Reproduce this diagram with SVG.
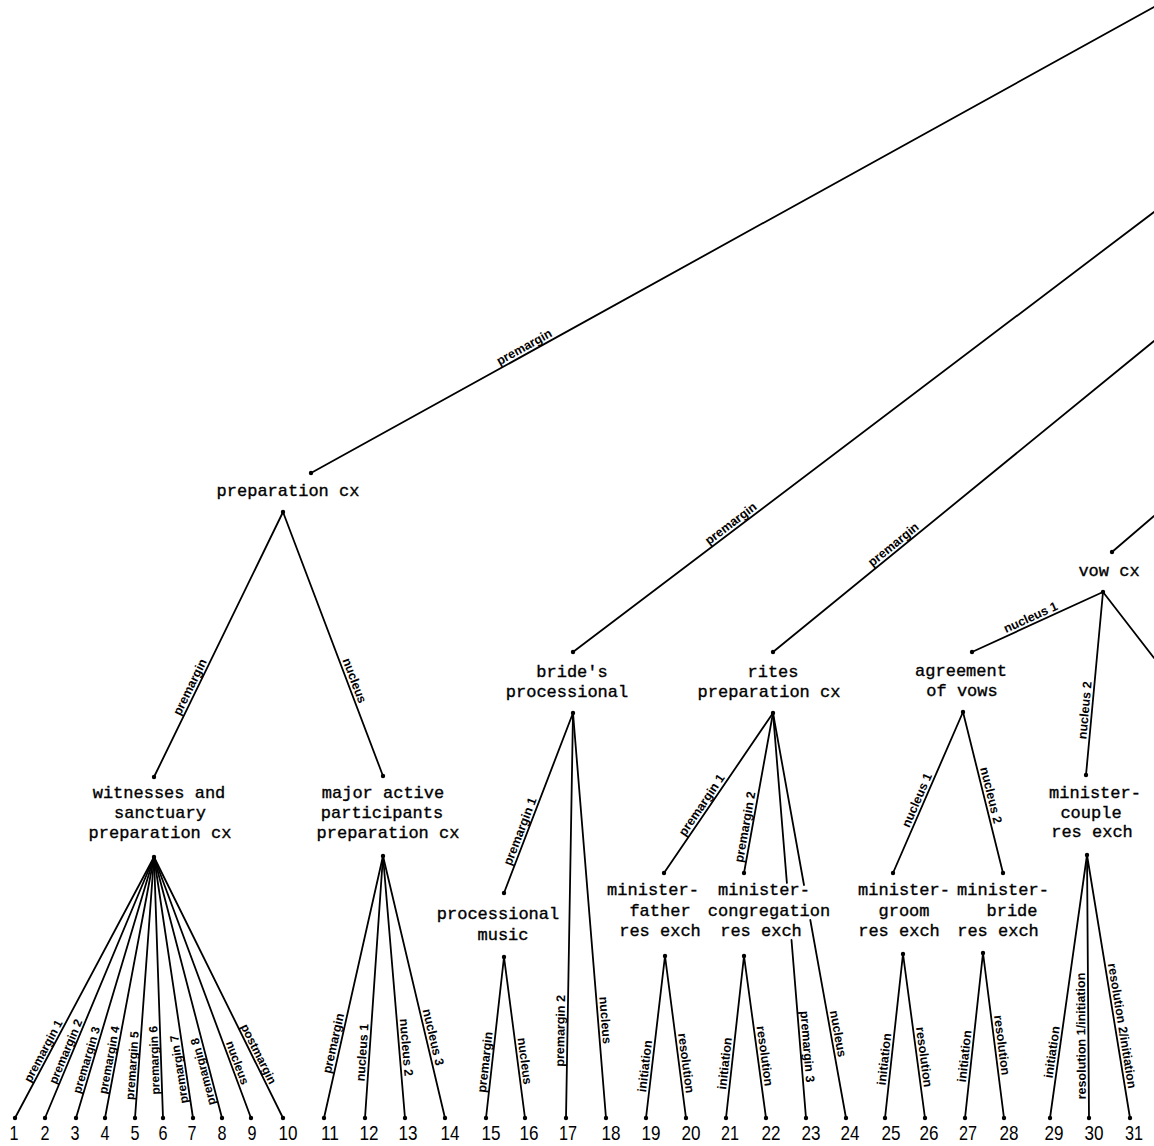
<svg xmlns="http://www.w3.org/2000/svg" width="1154" height="1146" viewBox="0 0 1154 1146">
<style>
.n{font-family:"Liberation Mono","Courier New",monospace;font-size:17px;fill:#000;stroke:#000;stroke-width:0.35;text-anchor:middle}
.e line{stroke:#000;stroke-width:1.8;fill:none;stroke-linecap:round}
.lb{font-family:"Liberation Sans",Arial,sans-serif;font-size:12.5px;font-weight:bold;fill:#000;text-anchor:middle}
.sm{font-size:12px}
.num{font-family:"Liberation Sans",Arial,sans-serif;font-size:21px;fill:#000;text-anchor:middle}
circle{fill:#000}
</style>
<defs>
<path id="pT1" d="M311,473 L1154,7"/>
<path id="pT2" d="M573,652 L1154,212"/>
<path id="pT3" d="M773,652 L1154,341"/>
<path id="pP1" d="M154,777 L283,512"/>
<path id="pP2" d="M283,512 L383,776"/>
<path id="pL1" d="M15,1118 L154,857"/>
<path id="pL2" d="M45,1118 L154,857"/>
<path id="pL3" d="M76,1118 L154,857"/>
<path id="pL4" d="M105,1118 L154,857"/>
<path id="pL5" d="M135,1118 L154,857"/>
<path id="pL6" d="M163,1118 L154,857"/>
<path id="pL7" d="M193,1118 L154,857"/>
<path id="pL8" d="M222,1118 L154,857"/>
<path id="pL9" d="M154,857 L251,1118"/>
<path id="pL10" d="M154,857 L283,1118"/>
<path id="pL11" d="M324,1118 L383,856"/>
<path id="pL12" d="M365,1118 L383,856"/>
<path id="pL13" d="M383,856 L405,1118"/>
<path id="pL14" d="M383,856 L445,1118"/>
<path id="pB1" d="M504,893 L573,713"/>
<path id="pL15" d="M486,1118 L504,957"/>
<path id="pL16" d="M504,957 L525,1118"/>
<path id="pL17" d="M566,1118 L573,713"/>
<path id="pL18" d="M573,713 L606,1118"/>
<path id="pR1" d="M664,873 L773,713"/>
<path id="pR2" d="M744,873 L773,713"/>
<path id="pL19" d="M646,1118 L665,956"/>
<path id="pL20" d="M665,956 L686,1118"/>
<path id="pL21" d="M726,1118 L744,956"/>
<path id="pL22" d="M744,956 L766,1118"/>
<path id="pL23" d="M773,713 L806,1118"/>
<path id="pL24" d="M773,713 L846,1118"/>
<path id="pV1" d="M972,652 L1103,592"/>
<path id="pV2" d="M1086,775 L1103,592"/>
<path id="pA1" d="M893,873 L963,712"/>
<path id="pA2" d="M963,712 L1003,873"/>
<path id="pL25" d="M885,1118 L903,954"/>
<path id="pL26" d="M903,954 L925,1118"/>
<path id="pL27" d="M965,1118 L983,953"/>
<path id="pL28" d="M983,953 L1004,1118"/>
<path id="pL29" d="M1050,1118 L1087,855"/>
<path id="pL30" d="M1089,1118 L1087,855"/>
<path id="pL31" d="M1087,855 L1130,1118"/>
</defs>

<g id="connectors" class="e">
<line x1="311" y1="473" x2="1154" y2="7"/>
<line x1="573" y1="652" x2="1154" y2="212"/>
<line x1="773" y1="652" x2="1154" y2="341"/>
<line x1="1112" y1="552" x2="1154" y2="516"/>
<line x1="1103" y1="592" x2="1154" y2="658"/>
<line x1="283" y1="512" x2="154" y2="777"/>
<line x1="283" y1="512" x2="383" y2="776"/>
<line x1="154" y1="857" x2="15" y2="1118"/>
<line x1="154" y1="857" x2="45" y2="1118"/>
<line x1="154" y1="857" x2="76" y2="1118"/>
<line x1="154" y1="857" x2="105" y2="1118"/>
<line x1="154" y1="857" x2="135" y2="1118"/>
<line x1="154" y1="857" x2="163" y2="1118"/>
<line x1="154" y1="857" x2="193" y2="1118"/>
<line x1="154" y1="857" x2="222" y2="1118"/>
<line x1="154" y1="857" x2="251" y2="1118"/>
<line x1="154" y1="857" x2="283" y2="1118"/>
<line x1="383" y1="856" x2="324" y2="1118"/>
<line x1="383" y1="856" x2="365" y2="1118"/>
<line x1="383" y1="856" x2="405" y2="1118"/>
<line x1="383" y1="856" x2="445" y2="1118"/>
<line x1="573" y1="713" x2="504" y2="893"/>
<line x1="573" y1="713" x2="566" y2="1118"/>
<line x1="573" y1="713" x2="606" y2="1118"/>
<line x1="504" y1="957" x2="486" y2="1118"/>
<line x1="504" y1="957" x2="525" y2="1118"/>
<line x1="773" y1="713" x2="664" y2="873"/>
<line x1="773" y1="713" x2="744" y2="873"/>
<line x1="773" y1="713" x2="786.9" y2="883"/>
<line x1="791.5" y1="940" x2="806" y2="1118"/>
<line x1="773" y1="713" x2="804" y2="885"/>
<line x1="810.3" y1="920" x2="846" y2="1118"/>
<line x1="665" y1="956" x2="646" y2="1118"/>
<line x1="665" y1="956" x2="686" y2="1118"/>
<line x1="744" y1="956" x2="726" y2="1118"/>
<line x1="744" y1="956" x2="766" y2="1118"/>
<line x1="1103" y1="592" x2="972" y2="652"/>
<line x1="1103" y1="592" x2="1086" y2="775"/>
<line x1="963" y1="712" x2="893" y2="873"/>
<line x1="963" y1="712" x2="1003" y2="873"/>
<line x1="903" y1="954" x2="885" y2="1118"/>
<line x1="903" y1="954" x2="925" y2="1118"/>
<line x1="983" y1="953" x2="965" y2="1118"/>
<line x1="983" y1="953" x2="1004" y2="1118"/>
<line x1="1087" y1="855" x2="1050" y2="1118"/>
<line x1="1087" y1="855" x2="1089" y2="1118"/>
<line x1="1087" y1="855" x2="1130" y2="1118"/>
</g>

<g id="edge-labels">
<text class="lb" dy="-3"><textPath href="#pT1" startOffset="25.7%">premargin</textPath></text>
<text class="lb" dy="-3"><textPath href="#pT2" startOffset="27.9%">premargin</textPath></text>
<text class="lb" dy="-3"><textPath href="#pT3" startOffset="32.8%">premargin</textPath></text>
<text class="lb" dy="-3"><textPath href="#pP1" startOffset="32.8%">premargin</textPath></text>
<text class="lb" dy="-3"><textPath href="#pP2" startOffset="64.8%">nucleus</textPath></text>
<text class="lb sm" dy="-2.5"><textPath href="#pL1" startOffset="24.5%">premargin 1</textPath></text>
<text class="lb sm" dy="-2.5"><textPath href="#pL2" startOffset="24.5%">premargin 2</textPath></text>
<text class="lb sm" dy="-2.5"><textPath href="#pL3" startOffset="21.5%">premargin 3</textPath></text>
<text class="lb sm" dy="-2.5"><textPath href="#pL4" startOffset="21.8%">premargin 4</textPath></text>
<text class="lb sm" dy="-2.5"><textPath href="#pL5" startOffset="19.9%">premargin 5</textPath></text>
<text class="lb sm" dy="-2.5"><textPath href="#pL6" startOffset="22.2%">premargin 6</textPath></text>
<text class="lb sm" dy="-2.5"><textPath href="#pL7" startOffset="19%">premargin 7</textPath></text>
<text class="lb sm" dy="-2.5"><textPath href="#pL8" startOffset="18.4%">premargin 8</textPath></text>
<text class="lb sm" dy="-2.5"><textPath href="#pL9" startOffset="79.7%">nucleus</textPath></text>
<text class="lb sm" dy="-2.5"><textPath href="#pL10" startOffset="76.6%">postmargin</textPath></text>
<text class="lb" dy="-3"><textPath href="#pL11" startOffset="27.9%">premargin</textPath></text>
<text class="lb" dy="-3"><textPath href="#pL12" startOffset="24.8%">nucleus 1</textPath></text>
<text class="lb" dy="-3"><textPath href="#pL13" startOffset="73.3%">nucleus 2</textPath></text>
<text class="lb" dy="-3"><textPath href="#pL14" startOffset="69.8%">nucleus 3</textPath></text>
<text class="lb" dy="-3"><textPath href="#pB1" startOffset="32.8%">premargin 1</textPath></text>
<text class="lb" dy="-3"><textPath href="#pL15" startOffset="34.2%">premargin</textPath></text>
<text class="lb" dy="-3"><textPath href="#pL16" startOffset="65.2%">nucleus</textPath></text>
<text class="lb" dy="-3"><textPath href="#pL17" startOffset="21.5%">premargin 2</textPath></text>
<text class="lb" dy="-3"><textPath href="#pL18" startOffset="76%">nucleus</textPath></text>
<text class="lb" dy="-3"><textPath href="#pR1" startOffset="40%">premargin 1</textPath></text>
<text class="lb" dy="-3"><textPath href="#pR2" startOffset="28%">premargin 2</textPath></text>
<text class="lb" dy="-3"><textPath href="#pL19" startOffset="31.5%">initiation</textPath></text>
<text class="lb" dy="-3"><textPath href="#pL20" startOffset="66.7%">resolution</textPath></text>
<text class="lb" dy="-3"><textPath href="#pL21" startOffset="33.3%">initiation</textPath></text>
<text class="lb" dy="-3"><textPath href="#pL22" startOffset="62.3%">resolution</textPath></text>
<text class="lb" dy="-3"><textPath href="#pL23" startOffset="82.5%">premargin 3</textPath></text>
<text class="lb" dy="-3"><textPath href="#pL24" startOffset="79.5%">nucleus</textPath></text>
<text class="lb" dy="-3"><textPath href="#pV1" startOffset="47%">nucleus 1</textPath></text>
<text class="lb" dy="-3"><textPath href="#pV2" startOffset="35%">nucleus 2</textPath></text>
<text class="lb" dy="-3"><textPath href="#pA1" startOffset="43.5%">nucleus 1</textPath></text>
<text class="lb" dy="-3"><textPath href="#pA2" startOffset="52.8%">nucleus 2</textPath></text>
<text class="lb" dy="-3"><textPath href="#pL25" startOffset="35.4%">initiation</textPath></text>
<text class="lb" dy="-3"><textPath href="#pL26" startOffset="63.4%">resolution</textPath></text>
<text class="lb" dy="-3"><textPath href="#pL27" startOffset="37%">initiation</textPath></text>
<text class="lb" dy="-3"><textPath href="#pL28" startOffset="56.4%">resolution</textPath></text>
<text class="lb" dy="-3"><textPath href="#pL29" startOffset="24.7%">initiation</textPath></text>
<text class="lb" dy="-3"><textPath href="#pL30" startOffset="31.2%">resolution 1/initiation</textPath></text>
<text class="lb" dy="-3"><textPath href="#pL31" startOffset="65.4%">resolution 2/initiation</textPath></text>
</g>

<g id="node-preparation-cx">
<circle cx="311" cy="473" r="2.2"/>
<text class="n" x="288" y="496">preparation cx</text>
<circle cx="283" cy="512" r="2.2"/>
</g>
<g id="node-witnesses">
<circle cx="154" cy="777" r="2.2"/>
<text class="n" x="159" y="798">witnesses and</text>
<text class="n" x="160" y="818">sanctuary</text>
<text class="n" x="160" y="838">preparation cx</text>
<circle cx="154" cy="857" r="2.2"/>
</g>
<g id="node-major">
<circle cx="383" cy="776" r="2.2"/>
<text class="n" x="383" y="798">major active</text>
<text class="n" x="382" y="818">participants</text>
<text class="n" x="388" y="838">preparation cx</text>
<circle cx="383" cy="856" r="2.2"/>
</g>
<g id="node-brides-processional">
<circle cx="573" cy="652" r="2.2"/>
<text class="n" x="572" y="677">bride's</text>
<text class="n" x="567" y="697">processional</text>
<circle cx="573" cy="713" r="2.2"/>
</g>
<g id="node-processional-music">
<circle cx="504" cy="893" r="2.2"/>
<text class="n" x="498" y="919">processional</text>
<text class="n" x="503" y="940">music</text>
<circle cx="504" cy="957" r="2.2"/>
</g>
<g id="node-rites">
<circle cx="773" cy="652" r="2.2"/>
<text class="n" x="773" y="677">rites</text>
<text class="n" x="769" y="697">preparation cx</text>
<circle cx="773" cy="713" r="2.2"/>
</g>
<g id="node-minister-father">
<circle cx="664" cy="873" r="2.2"/>
<text class="n" x="653" y="895">minister-</text>
<text class="n" x="660" y="916">father</text>
<text class="n" x="660" y="936">res exch</text>
<circle cx="665" cy="956" r="2.2"/>
</g>
<g id="node-minister-congregation">
<circle cx="744" cy="873" r="2.2"/>
<text class="n" x="764" y="895">minister-</text>
<text class="n" x="769" y="916">congregation</text>
<text class="n" x="761" y="936">res exch</text>
<circle cx="744" cy="956" r="2.2"/>
</g>
<g id="node-vow-cx">
<circle cx="1112" cy="552" r="2.2"/>
<text class="n" x="1109" y="576">vow cx</text>
<circle cx="1103" cy="592" r="2.2"/>
</g>
<g id="node-agreement">
<circle cx="972" cy="652" r="2.2"/>
<text class="n" x="961" y="676">agreement</text>
<text class="n" x="962" y="696">of vows</text>
<circle cx="963" cy="712" r="2.2"/>
</g>
<g id="node-minister-groom">
<circle cx="893" cy="873" r="2.2"/>
<text class="n" x="904" y="895">minister-</text>
<text class="n" x="904" y="916">groom</text>
<text class="n" x="899" y="936">res exch</text>
<circle cx="903" cy="954" r="2.2"/>
</g>
<g id="node-minister-bride">
<circle cx="1003" cy="873" r="2.2"/>
<text class="n" x="1003" y="895">minister-</text>
<text class="n" x="1012" y="916">bride</text>
<text class="n" x="998" y="936">res exch</text>
<circle cx="983" cy="953" r="2.2"/>
</g>
<g id="node-minister-couple">
<circle cx="1086" cy="775" r="2.2"/>
<text class="n" x="1095" y="798">minister-</text>
<text class="n" x="1091" y="818">couple</text>
<text class="n" x="1092" y="837">res exch</text>
<circle cx="1087" cy="855" r="2.2"/>
</g>

<g id="leaf-1"><circle cx="15" cy="1118" r="2.2"/><text class="num" x="14" y="1140" textLength="9" lengthAdjust="spacingAndGlyphs">1</text></g>
<g id="leaf-2"><circle cx="45" cy="1118" r="2.2"/><text class="num" x="45" y="1140" textLength="9" lengthAdjust="spacingAndGlyphs">2</text></g>
<g id="leaf-3"><circle cx="76" cy="1118" r="2.2"/><text class="num" x="75" y="1140" textLength="9" lengthAdjust="spacingAndGlyphs">3</text></g>
<g id="leaf-4"><circle cx="105" cy="1118" r="2.2"/><text class="num" x="105" y="1140" textLength="9" lengthAdjust="spacingAndGlyphs">4</text></g>
<g id="leaf-5"><circle cx="135" cy="1118" r="2.2"/><text class="num" x="135" y="1140" textLength="9" lengthAdjust="spacingAndGlyphs">5</text></g>
<g id="leaf-6"><circle cx="163" cy="1118" r="2.2"/><text class="num" x="163" y="1140" textLength="9" lengthAdjust="spacingAndGlyphs">6</text></g>
<g id="leaf-7"><circle cx="193" cy="1118" r="2.2"/><text class="num" x="192" y="1140" textLength="9" lengthAdjust="spacingAndGlyphs">7</text></g>
<g id="leaf-8"><circle cx="222" cy="1118" r="2.2"/><text class="num" x="222" y="1140" textLength="9" lengthAdjust="spacingAndGlyphs">8</text></g>
<g id="leaf-9"><circle cx="251" cy="1118" r="2.2"/><text class="num" x="252" y="1140" textLength="9" lengthAdjust="spacingAndGlyphs">9</text></g>
<g id="leaf-10"><circle cx="283" cy="1118" r="2.2"/><text class="num" x="288" y="1140" textLength="19" lengthAdjust="spacingAndGlyphs">10</text></g>
<g id="leaf-11"><circle cx="324" cy="1118" r="2.2"/><text class="num" x="330" y="1140" textLength="18" lengthAdjust="spacingAndGlyphs">11</text></g>
<g id="leaf-12"><circle cx="365" cy="1118" r="2.2"/><text class="num" x="369" y="1140" textLength="19" lengthAdjust="spacingAndGlyphs">12</text></g>
<g id="leaf-13"><circle cx="405" cy="1118" r="2.2"/><text class="num" x="408" y="1140" textLength="19" lengthAdjust="spacingAndGlyphs">13</text></g>
<g id="leaf-14"><circle cx="445" cy="1118" r="2.2"/><text class="num" x="450" y="1140" textLength="19" lengthAdjust="spacingAndGlyphs">14</text></g>
<g id="leaf-15"><circle cx="486" cy="1118" r="2.2"/><text class="num" x="491" y="1140" textLength="19" lengthAdjust="spacingAndGlyphs">15</text></g>
<g id="leaf-16"><circle cx="525" cy="1118" r="2.2"/><text class="num" x="529" y="1140" textLength="19" lengthAdjust="spacingAndGlyphs">16</text></g>
<g id="leaf-17"><circle cx="566" cy="1118" r="2.2"/><text class="num" x="568" y="1140" textLength="18" lengthAdjust="spacingAndGlyphs">17</text></g>
<g id="leaf-18"><circle cx="606" cy="1118" r="2.2"/><text class="num" x="611" y="1140" textLength="19" lengthAdjust="spacingAndGlyphs">18</text></g>
<g id="leaf-19"><circle cx="646" cy="1118" r="2.2"/><text class="num" x="651" y="1140" textLength="19" lengthAdjust="spacingAndGlyphs">19</text></g>
<g id="leaf-20"><circle cx="686" cy="1118" r="2.2"/><text class="num" x="691" y="1140" textLength="19" lengthAdjust="spacingAndGlyphs">20</text></g>
<g id="leaf-21"><circle cx="726" cy="1118" r="2.2"/><text class="num" x="730" y="1140" textLength="18" lengthAdjust="spacingAndGlyphs">21</text></g>
<g id="leaf-22"><circle cx="766" cy="1118" r="2.2"/><text class="num" x="771" y="1140" textLength="19" lengthAdjust="spacingAndGlyphs">22</text></g>
<g id="leaf-23"><circle cx="806" cy="1118" r="2.2"/><text class="num" x="811" y="1140" textLength="19" lengthAdjust="spacingAndGlyphs">23</text></g>
<g id="leaf-24"><circle cx="846" cy="1118" r="2.2"/><text class="num" x="850" y="1140" textLength="19" lengthAdjust="spacingAndGlyphs">24</text></g>
<g id="leaf-25"><circle cx="885" cy="1118" r="2.2"/><text class="num" x="891" y="1140" textLength="19" lengthAdjust="spacingAndGlyphs">25</text></g>
<g id="leaf-26"><circle cx="925" cy="1118" r="2.2"/><text class="num" x="929" y="1140" textLength="19" lengthAdjust="spacingAndGlyphs">26</text></g>
<g id="leaf-27"><circle cx="965" cy="1118" r="2.2"/><text class="num" x="968" y="1140" textLength="18" lengthAdjust="spacingAndGlyphs">27</text></g>
<g id="leaf-28"><circle cx="1004" cy="1118" r="2.2"/><text class="num" x="1009" y="1140" textLength="19" lengthAdjust="spacingAndGlyphs">28</text></g>
<g id="leaf-29"><circle cx="1050" cy="1118" r="2.2"/><text class="num" x="1054" y="1140" textLength="19" lengthAdjust="spacingAndGlyphs">29</text></g>
<g id="leaf-30"><circle cx="1089" cy="1118" r="2.2"/><text class="num" x="1094" y="1140" textLength="19" lengthAdjust="spacingAndGlyphs">30</text></g>
<g id="leaf-31"><circle cx="1130" cy="1118" r="2.2"/><text class="num" x="1134" y="1140" textLength="18" lengthAdjust="spacingAndGlyphs">31</text></g>
</svg>
